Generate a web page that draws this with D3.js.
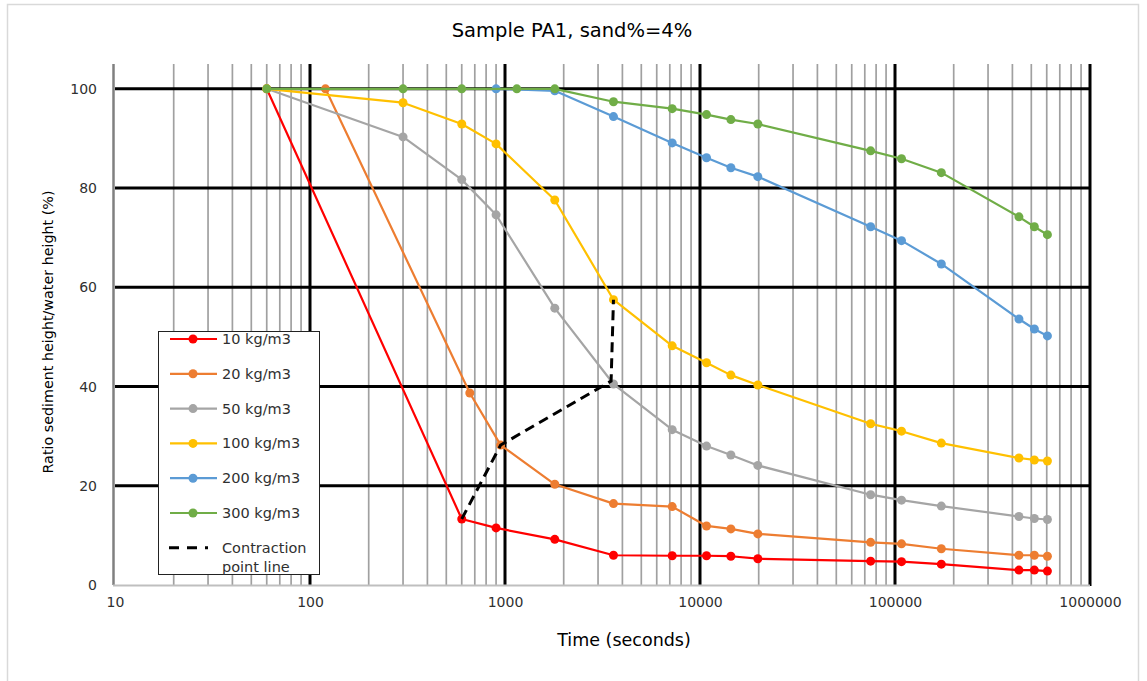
<!DOCTYPE html>
<html><head><meta charset="utf-8">
<script src="https://cdn.jsdelivr.net/npm/d3@7"></script>
<style>body{margin:0;background:#fff}svg{display:block}</style>
</head><body>
<svg id="c" width="1147" height="681"></svg>
<script>
const title = "Sample PA1, sand%=4%";
const xTitle = "Time (seconds)";
const yTitle = "Ratio sediment height/water height (%)";
const xTickValues = [10, 100, 1000, 10000, 100000, 1000000];
const yTickValues = [0, 20, 40, 60, 80, 100];

const t10 = [60, 600, 900, 1800, 3600, 7200, 10800, 14400, 19800, 75000, 108000, 172800, 432000, 518400, 604800];
const v10 = [100, 13.3, 11.5, 9.2, 6.0, 5.9, 5.9, 5.8, 5.3, 4.8, 4.7, 4.2, 3.0, 3.0, 2.8];
const t20 = [120, 660, 950, 1800, 3600, 7200, 10800, 14400, 19800, 75000, 108000, 172800, 432000, 518400, 604800];
const v20 = [100, 38.7, 28.2, 20.3, 16.4, 15.8, 11.9, 11.3, 10.3, 8.6, 8.3, 7.3, 6.0, 6.0, 5.8];
const t50 = [60, 300, 600, 900, 1800, 3600, 7200, 10800, 14400, 19800, 75000, 108000, 172800, 432000, 518400, 604800];
const v50 = [100, 90.3, 81.7, 74.6, 55.8, 40.5, 31.3, 28.0, 26.2, 24.1, 18.2, 17.1, 15.9, 13.8, 13.4, 13.2];
const t100 = [60, 300, 600, 900, 1800, 3600, 7200, 10800, 14400, 19800, 75000, 108000, 172800, 432000, 518400, 604800];
const v100 = [100, 97.2, 92.9, 88.9, 77.6, 57.5, 48.2, 44.8, 42.3, 40.3, 32.5, 31.0, 28.6, 25.6, 25.2, 25.0];
const t200 = [900, 1800, 3600, 7200, 10800, 14400, 19800, 75000, 108000, 172800, 432000, 518400, 604800];
const v200 = [100, 99.6, 94.4, 89.1, 86.1, 84.1, 82.3, 72.2, 69.4, 64.7, 53.6, 51.6, 50.2];
const t300 = [60, 300, 600, 1150, 1800, 3600, 7200, 10800, 14400, 19800, 75000, 108000, 172800, 432000, 518400, 604800];
const v300 = [100, 100, 100, 100, 100, 97.4, 96.0, 94.8, 93.8, 92.9, 87.5, 85.9, 83.1, 74.2, 72.2, 70.6];
const tContraction = [600, 950, 3500, 3600];
const vContraction = [13.3, 28.2, 41.1, 57.5];

const seriesNames = ["10 kg/m3", "20 kg/m3", "50 kg/m3", "100 kg/m3", "200 kg/m3", "300 kg/m3"];
const seriesColors = ["#FF0000", "#ED7D31", "#A5A5A5", "#FFC000", "#5B9BD5", "#70AD47"];
const seriesTimes = [t10, t20, t50, t100, t200, t300];
const seriesValues = [v10, v20, v50, v100, v200, v300];

const svg = d3.select("#c");
const font = "'DejaVu Sans', 'Liberation Sans', sans-serif";

// outer chart border
svg.append("rect").attr("x", 7.5).attr("y", 4.5).attr("width", 1131).attr("height", 700)
  .attr("fill", "#fff").attr("stroke", "#d9d9d9").attr("stroke-width", 1.5);

const L = 115, R = 1090, T = 64, B = 585;
const x = d3.scaleLog().domain([10, 1000000]).range([L, R]);
const y = d3.scaleLinear().domain([0, 105]).range([B, T]);

const g = svg.append("g");

// minor vertical grid
const minor = [];
for (let d = 10; d < 1000000; d *= 10) for (let k = 2; k <= 9; k++) minor.push(d * k);
g.selectAll(".minor").data(minor).join("line")
  .attr("x1", d => x(d)).attr("x2", d => x(d)).attr("y1", T).attr("y2", B)
  .attr("stroke", "#a0a0a0").attr("stroke-width", 1.7);

// horizontal major grid
g.selectAll(".hgrid").data(yTickValues.filter(v => v > 0)).join("line")
  .attr("x1", L).attr("x2", R).attr("y1", d => y(d)).attr("y2", d => y(d))
  .attr("stroke", "#000").attr("stroke-width", 3);

// vertical major grid
g.selectAll(".vgrid").data(xTickValues.filter(v => v > 10)).join("line")
  .attr("x1", d => x(d)).attr("x2", d => x(d)).attr("y1", T).attr("y2", B + 1)
  .attr("stroke", "#000").attr("stroke-width", 3);

// axis lines
g.append("line").attr("x1", L - 1.5).attr("x2", L - 1.5).attr("y1", T).attr("y2", B)
  .attr("stroke", "#808080").attr("stroke-width", 2.5);
g.append("line").attr("x1", L - 2).attr("x2", R).attr("y1", B + 0.5).attr("y2", B + 0.5)
  .attr("stroke", "#bfbfbf").attr("stroke-width", 2);

// axes labels via d3 axes
const xAxis = d3.axisBottom(x).tickValues(xTickValues).tickFormat(d3.format("d")).tickSize(0).tickPadding(0);
const gx = svg.append("g").attr("transform", `translate(0,${B + 12})`).call(xAxis);
gx.select(".domain").remove();
gx.selectAll("text").attr("font-family", font).attr("font-size", 14).attr("fill", "#303030").attr("dy", "0.71em");

const yAxis = d3.axisLeft(y).tickValues(yTickValues).tickSize(0).tickPadding(0);
const gy = svg.append("g").attr("transform", `translate(${97},0)`).call(yAxis);
gy.select(".domain").remove();
gy.selectAll("text").attr("font-family", font).attr("font-size", 14).attr("fill", "#303030");

// series
const line = d3.line().x(d => x(d[0])).y(d => y(d[1]));
seriesNames.forEach((name, i) => {
  const pts = seriesTimes[i].map((t, j) => [t, seriesValues[i][j]]);
  const sg = svg.append("g");
  sg.append("path").datum(pts).attr("d", line).attr("fill", "none")
    .attr("stroke", seriesColors[i]).attr("stroke-width", 2.2).attr("stroke-linejoin", "round");
  sg.selectAll("circle").data(pts).join("circle")
    .attr("cx", d => x(d[0])).attr("cy", d => y(d[1])).attr("r", 4.5).attr("fill", seriesColors[i]);
});

// contraction point line
const cpts = tContraction.map((t, j) => [t, vContraction[j]]);
svg.append("path").datum(cpts).attr("d", line).attr("fill", "none")
  .attr("stroke", "#000").attr("stroke-width", 3).attr("stroke-dasharray", "10,6");

// titles
svg.append("text").attr("x", 572).attr("y", 37).attr("text-anchor", "middle")
  .attr("font-family", font).attr("font-size", 19.5).attr("fill", "#000").text(title);
svg.append("text").attr("x", 624).attr("y", 646).attr("text-anchor", "middle")
  .attr("font-family", font).attr("font-size", 17.5).attr("fill", "#000").text(xTitle);
svg.append("text").attr("transform", "translate(53,332) rotate(-90)").attr("text-anchor", "middle")
  .attr("font-family", font).attr("font-size", 14.3).attr("fill", "#000").text(yTitle);

// legend
const lg = svg.append("g");
lg.append("rect").attr("x", 158.5).attr("y", 331.5).attr("width", 161).attr("height", 243)
  .attr("fill", "#fff").attr("stroke", "#222").attr("stroke-width", 1);
const legendY0 = 339, legendStep = 34.8;
seriesNames.forEach((name, i) => {
  const yy = legendY0 + i * legendStep;
  lg.append("line").attr("x1", 170).attr("x2", 217).attr("y1", yy).attr("y2", yy)
    .attr("stroke", seriesColors[i]).attr("stroke-width", 2.2);
  lg.append("circle").attr("cx", 193).attr("cy", yy).attr("r", 4.5).attr("fill", seriesColors[i]);
  lg.append("text").attr("x", 222).attr("y", yy + 5).attr("font-family", font).attr("font-size", 14.5)
    .attr("fill", "#303030").text(name);
});
const cy0 = legendY0 + 6 * legendStep;
lg.append("line").attr("x1", 169).attr("x2", 208).attr("y1", cy0).attr("y2", cy0)
  .attr("stroke", "#000").attr("stroke-width", 3).attr("stroke-dasharray", "10,8");
lg.append("text").attr("x", 222).attr("y", cy0 + 5).attr("font-family", font).attr("font-size", 14.5)
  .attr("fill", "#303030").text("Contraction");
lg.append("text").attr("x", 222).attr("y", cy0 + 24).attr("font-family", font).attr("font-size", 14.5)
  .attr("fill", "#303030").text("point line");
</script>
</body></html>
